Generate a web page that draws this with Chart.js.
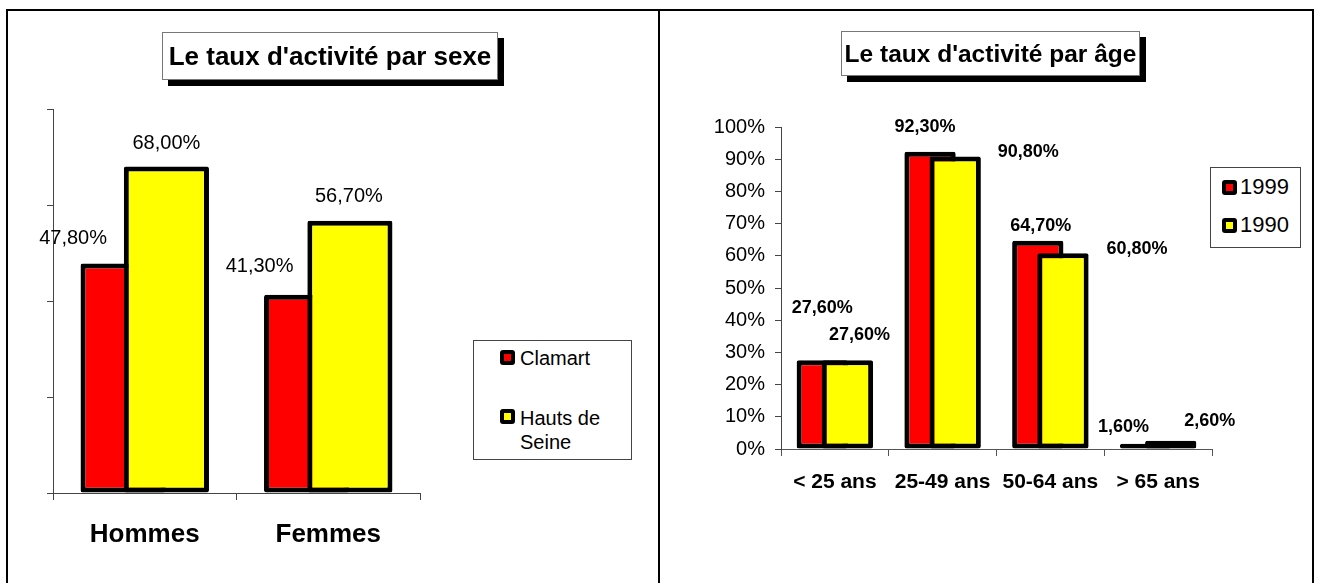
<!DOCTYPE html>
<html>
<head>
<meta charset="utf-8">
<script src="https://cdn.jsdelivr.net/npm/chart.js@4.4.1/dist/chart.umd.min.js"></script>
<style>
  html, body { margin:0; padding:0; background:#fff; width:1319px; height:583px; overflow:hidden;
    font-family:"Liberation Sans", Arial, Helvetica, sans-serif; color:#000; }
  .abs { position:absolute; }
  .line { position:absolute; background:#000; }
  .title { position:absolute; box-sizing:border-box; border:1px solid #777; background:#fff;
    box-shadow:6px 6px 0 #000; text-align:center; font-weight:bold; white-space:nowrap; }
  .legend { position:absolute; box-sizing:border-box; border:1px solid #444; background:#fff; }
  .mark { position:absolute; width:15px; height:15px; background:#000; border-radius:3px; }
  .mark > div { position:absolute; left:4px; top:4px; width:7px; height:7px; }
  .ltext { position:absolute; }
  canvas { position:absolute; top:0; }
</style>
</head>
<body>
<!-- frame -->
<div class="line" style="left:6px; top:9px; width:1308px; height:2px;"></div>
<div class="line" style="left:6px; top:9px; width:2px; height:574px;"></div>
<div class="line" style="left:658px; top:9px; width:2px; height:574px;"></div>
<div class="line" style="left:1312px; top:9px; width:2px; height:574px;"></div>

<canvas id="cSex" width="660" height="583" style="left:0px; width:660px; height:583px;"></canvas>
<canvas id="cAge" width="659" height="583" style="left:660px; width:659px; height:583px;"></canvas>

<div id="tSex" class="title" style="left:162px; top:32px; width:336px; height:48px; font-size:26px; line-height:46px;"></div>
<div id="tAge" class="title" style="left:841px; top:31px; width:299px; height:45px; font-size:24.5px; line-height:43px;"></div>

<div class="legend" style="left:473px; top:340px; width:159px; height:120px;"></div>
<div class="legend" style="left:1210px; top:167px; width:91px; height:81px;"></div>
<div id="legends"></div>

<script>
// ---------- data ----------
const sexTitle = "Le taux d'activité par sexe";
const sexCategories = ['Hommes', 'Femmes'];
const sexSeriesNames = ['Clamart', 'Hauts de Seine'];
const clamartValues = [47.8, 41.3];
const hautsDeSeineValues = [68.0, 56.7];
const sexAxisMax = 80;
const sexAxisStep = 20;

const ageTitle = "Le taux d'activité par âge";
const ageCategories = ['< 25 ans', '25-49 ans', '50-64 ans', '> 65 ans'];
const ageSeriesNames = ['1999', '1990'];
const values1999 = [27.6, 92.3, 64.7, 1.6];
const values1990 = [27.6, 90.8, 60.8, 2.6];
const ageAxisMax = 100;
const ageAxisStep = 10;

// ---------- styling ----------
const RED = '#ff0000', YELLOW = '#ffff00';
const FONT = '"Liberation Sans", Arial, Helvetica, sans-serif';
// label offsets (px) relative to top-centre of each bar: [dataset][category] = [dx, dy]
const sexLabelOffsets = [[[-50, -25], [-47, -28]], [[0, -23], [-1, -24]]];
const ageLabelOffsets = [[[0, -52], [-5, -25], [3, -15], [-22, -17]],
                         [[12, -25], [73, -5], [74, -4], [39, -20]]];

document.getElementById('tSex').textContent = sexTitle;
document.getElementById('tAge').textContent = ageTitle;

function fmt(v) { return v.toFixed(2).replace('.', ',') + '%'; }

function makeLabelPlugin(offsets, font) {
  return {
    id: 'barLabels',
    beforeDatasetsDraw(chart) {
      // draw in dataset order so the second series overlaps the first
      chart.getSortedVisibleDatasetMetas().forEach(m => m.controller.draw());
      return false;
    },
    afterDraw(chart) {
      const ctx = chart.ctx;
      ctx.save();
      ctx.font = font;
      ctx.fillStyle = '#000';
      ctx.textAlign = 'center';
      ctx.textBaseline = 'middle';
      chart.data.datasets.forEach((ds, di) => {
        const meta = chart.getDatasetMeta(di);
        meta.data.forEach((el, i) => {
          const off = offsets[di][i];
          ctx.fillText(fmt(ds.data[i]), el.x + off[0], el.y + off[1]);
        });
      });
      ctx.restore();
    }
  };
}

function barDataset(label, data, color, catPct, barPct) {
  return { label, data, backgroundColor: color, borderColor: '#000', borderWidth: 5,
    borderSkipped: false, borderRadius: 2, categoryPercentage: catPct, barPercentage: barPct };
}

// ---------- left chart ----------
new Chart(document.getElementById('cSex'), {
  type: 'bar',
  data: {
    labels: sexCategories,
    datasets: [
      barDataset(sexSeriesNames[0], clamartValues, RED, 0.472, 1.966),
      barDataset(sexSeriesNames[1], hautsDeSeineValues, YELLOW, 0.472, 1.966)
    ]
  },
  options: {
    responsive: false, animation: false, devicePixelRatio: 1,
    layout: { padding: { left: 33, top: 109, right: 240, bottom: 30 } },
    plugins: { legend: { display: false }, tooltip: { enabled: false } },
    scales: {
      x: {
        grid: { drawOnChartArea: false, drawTicks: true, tickLength: 7, offset: true, color: '#444' },
        border: { color: '#444', width: 1 },
        ticks: { color: '#000', padding: 19, font: { family: FONT, size: 26, weight: 'bold' } },
        afterFit: s => { s.height = 60; }
      },
      y: {
        min: 0, max: sexAxisMax,
        ticks: { stepSize: sexAxisStep, display: false },
        grid: { drawOnChartArea: false, tickLength: 6, color: '#444' },
        border: { color: '#444', width: 1 },
        afterFit: s => { s.width = 20; }
      }
    }
  },
  plugins: [makeLabelPlugin(sexLabelOffsets, '20px ' + FONT)]
});

// ---------- right chart ----------
new Chart(document.getElementById('cAge'), {
  type: 'bar',
  data: {
    labels: ageCategories,
    datasets: [
      barDataset(ageSeriesNames[0], values1999, RED, 0.467, 2.04),
      barDataset(ageSeriesNames[1], values1990, YELLOW, 0.467, 2.04)
    ]
  },
  options: {
    responsive: false, animation: false, devicePixelRatio: 1,
    layout: { padding: { left: 41, top: 127, right: 107, bottom: 84 } },
    plugins: { legend: { display: false }, tooltip: { enabled: false } },
    scales: {
      x: {
        grid: { drawOnChartArea: false, drawTicks: true, tickLength: 7, offset: true, color: '#555' },
        border: { color: '#555', width: 1 },
        ticks: { color: '#000', padding: 14, font: { family: FONT, size: 21, weight: 'bold' } },
        afterFit: s => { s.height = 50; }
      },
      y: {
        min: 0, max: ageAxisMax,
        ticks: { stepSize: ageAxisStep, color: '#000', padding: 10,
          font: { family: FONT, size: 20 }, callback: v => v + '%' },
        grid: { drawOnChartArea: false, tickLength: 6, color: '#444' },
        border: { color: '#444', width: 1 },
        afterFit: s => { s.width = 80; }
      }
    }
  },
  plugins: [makeLabelPlugin(ageLabelOffsets, 'bold 18px ' + FONT)]
});

// ---------- legends (HTML) ----------
const legendSpecs = [
  { names: sexSeriesNames, colors: [RED, YELLOW], markX: 500, markY: [350, 409], textX: 520,
    textTop: [346, 406], size: 20, lh: 24, width: 100 },
  { names: ageSeriesNames, colors: [RED, YELLOW], markX: 1222, markY: [180, 218], textX: 1240,
    textTop: [174, 212], size: 22, lh: 26, width: 60 }
];
const host = document.getElementById('legends');
legendSpecs.forEach(spec => {
  spec.names.forEach((name, i) => {
    const m = document.createElement('div');
    m.className = 'mark';
    m.style.left = spec.markX + 'px'; m.style.top = spec.markY[i] + 'px';
    const inner = document.createElement('div');
    inner.style.background = spec.colors[i];
    m.appendChild(inner);
    host.appendChild(m);
    const t = document.createElement('div');
    t.className = 'ltext';
    t.style.left = spec.textX + 'px'; t.style.top = spec.textTop[i] + 'px';
    t.style.fontSize = spec.size + 'px'; t.style.lineHeight = spec.lh + 'px';
    t.style.width = spec.width + 'px';
    t.textContent = name;
    host.appendChild(t);
  });
});
</script>
</body>
</html>
